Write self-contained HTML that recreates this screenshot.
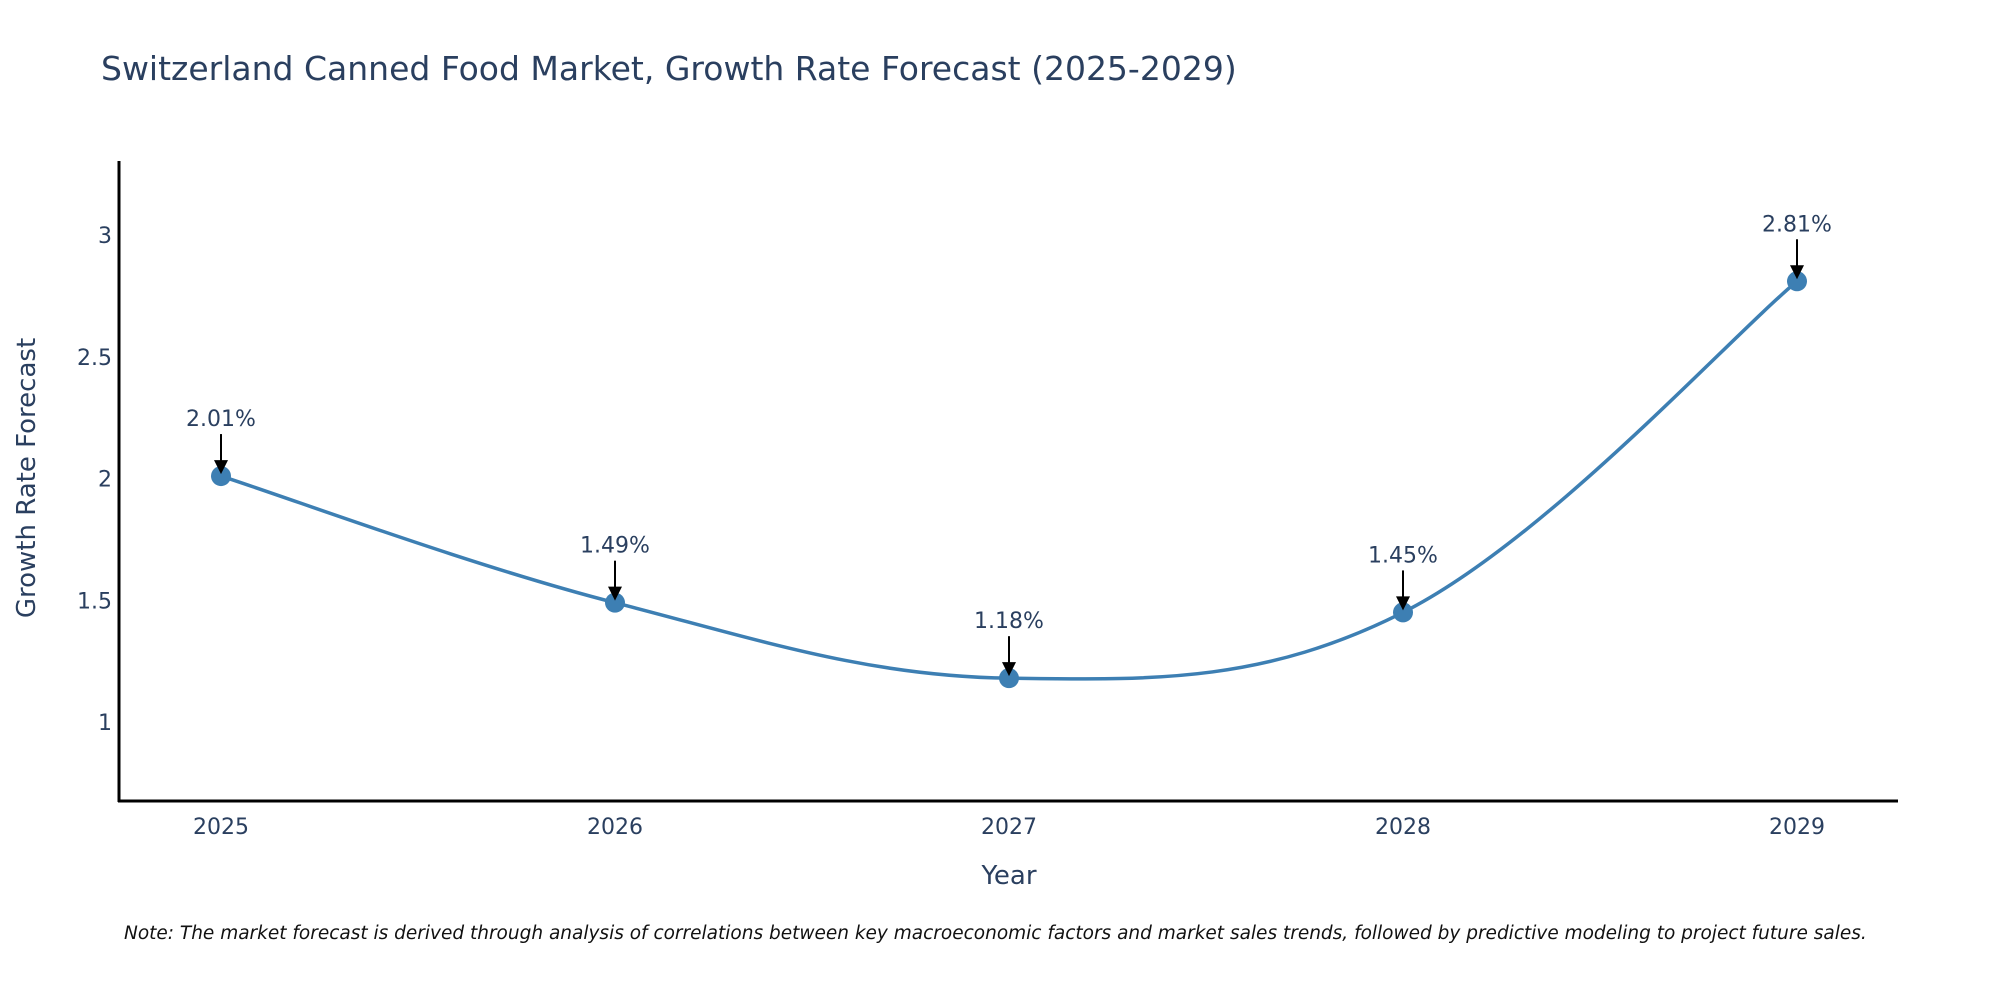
<!DOCTYPE html>
<html><head><meta charset="utf-8"><style>
body{margin:0;background:#fff;}
svg text{font-family:"DejaVu Sans","Liberation Sans",sans-serif;}
</style></head><body>
<svg id="chart" width="2000" height="1000" xmlns="http://www.w3.org/2000/svg">
<rect width="2000" height="1000" fill="#fff"/>
<text x="101" y="80" font-size="33" fill="#2a3f5f">Switzerland Canned Food Market, Growth Rate Forecast (2025-2029)</text>
<g id="yticks"></g><g id="xticks"></g>
<path id="line" fill="none" stroke="#3d7fb3" stroke-width="3.5"/>
<g id="marks"></g>
<line x1="119" y1="161" x2="119" y2="802" stroke="#000" stroke-width="3"/>
<line x1="118" y1="801" x2="1898" y2="801" stroke="#000" stroke-width="3"/>
<text x="1009" y="884" font-size="26" fill="#2a3f5f" text-anchor="middle">Year</text>
<text x="35" y="478" font-size="26" fill="#2a3f5f" text-anchor="middle" transform="rotate(-90 35 478)">Growth Rate Forecast</text>
<text x="124" y="939" font-size="18.5" font-style="italic" fill="#111">Note: The market forecast is derived through analysis of correlations between key macroeconomic factors and market sales trends, followed by predictive modeling to project future sales.</text>
</svg>
<script>
const years=[2025,2026,2027,2028,2029];
const values=[2.01,1.49,1.18,1.45,2.81];
const valueLabels=["2.01%","1.49%","1.18%","1.45%","2.81%"];
const yTicks=[1,1.5,2,2.5,3];
const X=y=>221+(y-2025)*394;
const Y=v=>722-(v-1)*243.5;
const NS="http://www.w3.org/2000/svg";
const yt=document.getElementById('yticks');
yTicks.forEach(t=>{const e=document.createElementNS(NS,'text');


e.setAttribute('x',112);e.setAttribute('y',Y(t)+8);e.setAttribute('text-anchor','end');e.setAttribute('font-size','22');e.setAttribute('fill','#2a3f5f');e.textContent=String(t);yt.appendChild(e);});
const xt=document.getElementById('xticks');
years.forEach(t=>{const e=document.createElementNS(NS,'text');


e.setAttribute('x',X(t));e.setAttribute('y',834);e.setAttribute('text-anchor','middle');e.setAttribute('font-size','22');e.setAttribute('fill','#2a3f5f');e.textContent=String(t);xt.appendChild(e);});
const pts=years.map((y,i)=>[X(y),Y(values[i])]);
let d='M'+pts[0][0]+','+pts[0][1];
const k=0.18;
for(let i=0;i<pts.length-1;i++){
 const p0=pts[Math.max(i-1,0)],p1=pts[i],p2=pts[i+1],p3=pts[Math.min(i+2,pts.length-1)];
 const c1=[p1[0]+(p2[0]-p0[0])*k,p1[1]+(p2[1]-p0[1])*k];
 const c2=[p2[0]-(p3[0]-p1[0])*k,p2[1]-(p3[1]-p1[1])*k];
 d+=` C${c1[0]},${c1[1]} ${c2[0]},${c2[1]} ${p2[0]},${p2[1]}`;
}
document.getElementById('line').setAttribute('d',d);
const mk=document.getElementById('marks');
pts.forEach((p,i)=>{
 const c=document.createElementNS(NS,'circle');
 
 
 c.setAttribute('cx',p[0]);c.setAttribute('cy',p[1]);c.setAttribute('r',10);c.setAttribute('fill','#3d7fb3');mk.appendChild(c);
 const l=document.createElementNS(NS,'line');
 
 
 l.setAttribute('x1',p[0]);l.setAttribute('x2',p[0]);l.setAttribute('y1',p[1]-42);l.setAttribute('y2',p[1]-12);l.setAttribute('stroke','#000');l.setAttribute('stroke-width','2');mk.appendChild(l);
 const a=document.createElementNS(NS,'polygon');
 
 
 a.setAttribute('points',`${p[0]-7},${p[1]-16} ${p[0]+7},${p[1]-16} ${p[0]},${p[1]-2}`);a.setAttribute('fill','#000');mk.appendChild(a);
 const t=document.createElementNS(NS,'text');
 
 
 t.setAttribute('x',p[0]);t.setAttribute('y',p[1]-50);t.setAttribute('text-anchor','middle');t.setAttribute('font-size','22');t.setAttribute('fill','#2a3f5f');t.textContent=valueLabels[i];mk.appendChild(t);
});
</script>
</body></html>
